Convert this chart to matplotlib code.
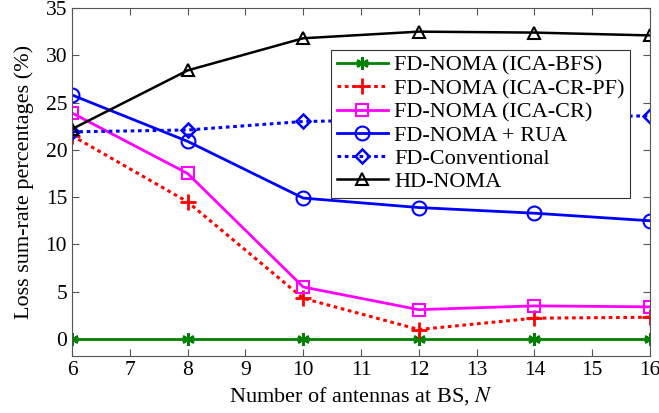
import matplotlib
matplotlib.use('Agg')
import matplotlib.pyplot as plt

plt.rcParams['font.family'] = ['Liberation Serif', 'DejaVu Serif']
plt.rcParams['mathtext.fontset'] = 'stix'

N = [6, 8, 10, 12, 14, 16]
bfs = [0, 0, 0, 0, 0, 0]
cr_pf = [21.5, 14.5, 4.3, 1.0, 2.2, 2.3]
cr = [23.9, 17.5, 5.5, 3.1, 3.5, 3.4]
rua = [25.8, 20.9, 14.9, 13.9, 13.3, 12.5]
conv = [21.9, 22.1, 23.0, 23.2, 23.4, 23.6]
hd = [22.2, 28.4, 31.8, 32.5, 32.4, 32.1]

fig = plt.figure(figsize=(6.59, 4.13), dpi=100)
ax = fig.add_axes([72/659, 1-356/413, 578/659, 348/413])

dot = (0, (1.2, 1.2))
ax.plot(N, bfs, color='#008000', ls='-', marker=(6, 2, 0), ms=9, mew=1.8, lw=2, label='FD-NOMA (ICA-BFS)')
ax.plot(N, cr_pf, color='red', ls=dot, marker='+', ms=11, mew=2, lw=2.2, label='FD-NOMA (ICA-CR-PF)')
ax.plot(N, cr, color='magenta', ls='-', marker='s', ms=8, mew=1.5, mfc='none', lw=2, label='FD-NOMA (ICA-CR)')
ax.plot(N, rua, color='blue', ls='-', marker='o', ms=10, mew=1.5, mfc='none', lw=2, label='FD-NOMA + RUA')
ax.plot(N, conv, color='blue', ls=dot, marker='D', ms=7, mew=1.8, mfc='none', lw=2.2, label='FD-Conventional')
ax.plot(N, hd, color='black', ls='-', marker='^', ms=9, mew=1.5, mfc='none', lw=1.8, label='HD-NOMA')

ax.set_xlim(6, 16)
ax.set_ylim(-1.8, 35)
ax.set_xticks(range(6, 17))
ax.set_yticks(range(0, 36, 5))
ax.tick_params(direction='in', labelsize=15.5, top=True, right=True, color='#555555', length=5)
for s in ax.spines.values():
    s.set_color('#555555')
ax.set_xlabel('Number of antennas at BS, $N$', fontsize=16)
ax.set_ylabel('Loss sum-rate percentages (%)', fontsize=16, labelpad=8)

leg = ax.legend(loc='upper right', bbox_to_anchor=(0.966, 0.88), fontsize=16, fancybox=False,
                edgecolor='#333333', framealpha=1, handlelength=2.3, borderpad=0.25,
                labelspacing=0.12, handletextpad=0.3, borderaxespad=0)
leg.get_frame().set_linewidth(0.8)

fig.savefig('out.png', dpi=100)
